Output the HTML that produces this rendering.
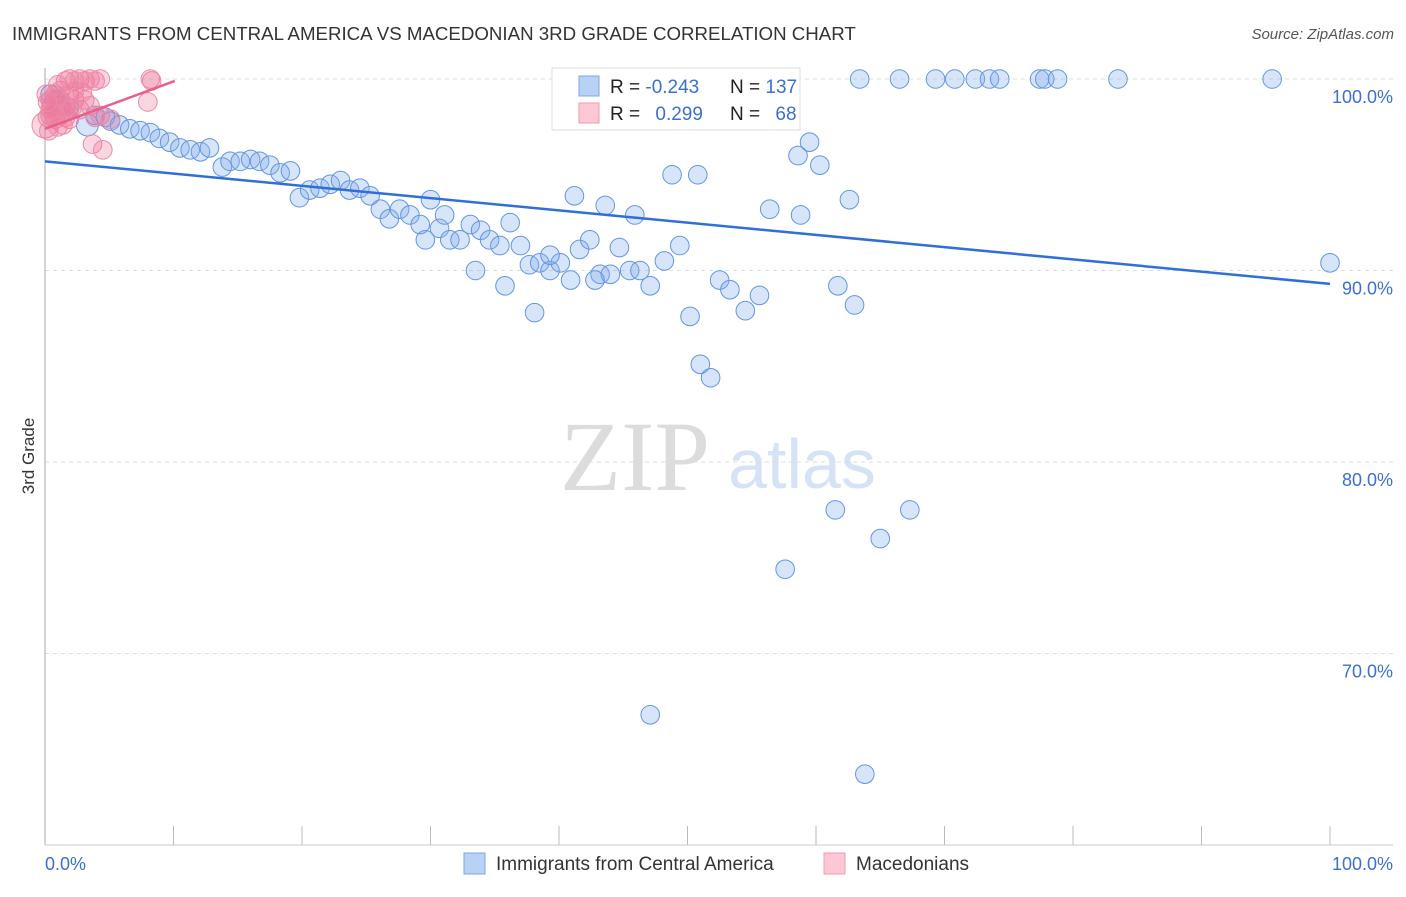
<!DOCTYPE html>
<html><head><meta charset="utf-8"><style>
body{margin:0;background:#fff;font-family:"Liberation Sans",sans-serif}
</style></head><body>
<svg id="c" width="1406" height="892" style="font-family:'Liberation Sans',sans-serif">
<text x="12" y="40" font-size="18.7" fill="#333">IMMIGRANTS FROM CENTRAL AMERICA VS MACEDONIAN 3RD GRADE CORRELATION CHART</text>
<text x="1394" y="39" font-size="15" fill="#555" font-style="italic" text-anchor="end">Source: ZipAtlas.com</text>
<text x="34" y="456" font-size="17" fill="#333" transform="rotate(-90 34 456)" text-anchor="middle">3rd Grade</text>
<text x="635" y="490" font-size="100" fill="#dcdcdc" style="font-family:'Liberation Serif',serif" text-anchor="middle">ZIP</text>
<text x="802" y="488" font-size="70" fill="#d6e2f5" text-anchor="middle">atlas</text>
<g id="grid"></g><g id="pts"></g><g id="trend"></g>
<g>
<rect x="552" y="68" width="248" height="62" fill="#fff" stroke="#ddd"/>
<rect x="579" y="76" width="20" height="20" fill="#b8d2f5" stroke="#7aa7e8"/>
<rect x="579" y="103" width="20" height="20" fill="#fcc8d6" stroke="#f09ab2"/>
<text x="610" y="93" font-size="19" fill="#222">R = <tspan fill="#3a70d0">-0.243</tspan></text>
<text x="730" y="93" font-size="19" fill="#222">N = <tspan fill="#3a70d0">137</tspan></text>
<text x="610" y="120" font-size="19" fill="#222">R = <tspan fill="#3a70d0" dx="10">0.299</tspan></text>
<text x="730" y="120" font-size="19" fill="#222">N = <tspan fill="#3a70d0" dx="10">68</tspan></text>
</g>
<g>
<rect x="464" y="853" width="21" height="21" fill="#b8d2f5" stroke="#7aa7e8"/>
<text x="496" y="870" font-size="19" fill="#333">Immigrants from Central America</text>
<rect x="824" y="853" width="21" height="21" fill="#fcc8d6" stroke="#f09ab2"/>
<text x="856" y="870" font-size="19" fill="#333">Macedonians</text>
</g>
</svg>
<script>
const yTicks=[100,90,80,70];
const yTickLabels=["100.0%","90.0%","80.0%","70.0%"];
const xLabels=["0.0%","100.0%"];
const blueX=[0.4,0.8,1.2,1.9,3.3,3.9,4.7,5.1,5.8,6.6,7.4,8.2,8.9,9.7,10.5,11.3,12.1,12.8,13.8,14.4,15.2,16.0,16.7,17.5,18.3,19.1,19.8,20.6,21.4,22.2,23.0,23.7,24.5,25.3,26.1,26.8,27.6,28.4,29.2,30.0,30.7,31.5,32.3,33.1,33.9,34.6,35.4,36.2,37.0,37.7,38.5,39.3,40.1,40.9,41.6,42.4,43.2,44.0,44.7,45.5,46.3,47.1,48.2,49.4,50.2,51.0,51.8,52.5,53.3,54.5,55.6,56.4,58.8,59.5,60.3,58.6,61.5,62.6,63.0,61.7,65.0,67.3,57.6,47.1,63.8,33.5,35.8,38.1,41.2,43.6,45.9,48.8,50.8,100,42.8,39.3,31.1,29.6,63.4,66.5,69.3,70.8,72.4,73.5,74.3,77.4,77.8,78.8,83.5,95.5,47.9,54.1,43.6];
const blueY=[99.2,98.9,98.6,98.5,97.6,98.1,98.0,97.8,97.6,97.4,97.3,97.2,96.9,96.7,96.4,96.3,96.2,96.4,95.4,95.7,95.7,95.8,95.7,95.5,95.1,95.2,93.8,94.2,94.3,94.5,94.7,94.2,94.3,93.9,93.2,92.7,93.2,92.9,92.4,93.7,92.2,91.6,91.6,92.4,92.1,91.6,91.3,92.5,91.3,90.3,90.4,90.0,90.4,89.5,91.1,91.6,89.8,89.8,91.2,90.0,90.0,89.2,90.5,91.3,87.6,85.1,84.4,89.5,89.0,87.9,88.7,93.2,92.9,96.7,95.5,96.0,77.5,93.7,88.2,89.2,76.0,77.5,74.4,66.8,63.7,90.0,89.2,87.8,93.9,93.4,92.9,95.0,95.0,90.4,89.5,90.8,92.9,91.6,100,100,100,100,100,100,100,100,100,100,100,100,100,100,100];
const pinkX=[0,0.4,0.8,1.2,1.6,1.9,2.3,2.7,3.1,3.5,3.9,4.3,0.8,1.2,1.6,1.9,2.3,2.7,0.4,0.8,1.2,1.6,1.9,3.1,3.5,4.3,3.7,4.5,8.0,8.2,8.3,2.3,1.0,1.3,1.8,0.5,0.2,2.9,3.9,5.1,0.1,0.4,0.9,1.4,2.1,0.3,0.6,1.0,0.2];
const pinkY=[97.6,98.9,99.2,99.4,99.9,100,99.9,100,99.9,100,99.9,100,98.4,98.1,98.6,99.2,98.9,98.4,98.1,97.9,98.9,98.0,97.9,98.9,98.6,98.1,96.6,96.3,98.8,100,99.9,99.4,99.7,98.5,98.3,98.6,98.0,99.3,98.0,97.9,99.2,98.4,99.0,97.6,98.5,97.3,98.2,97.5,98.8];
const blueTrend=[[0,95.7],[100,89.3]];
const pinkTrend=[[0,97.4],[10.1,99.9]];
const NS="http://www.w3.org/2000/svg";
const X=v=>45+v*12.85, Y=v=>79+(100-v)*19.15;
function mk(t,a,p){const e=document.createElementNS(NS,t);for(const k in a)e.setAttribute(k,a[k]);p.appendChild(e);return e;}
const g=document.getElementById('grid');
yTicks.forEach((t,i)=>{
 const l=mk('line',{x1:45,x2:1393,y1:Y(t),y2:Y(t),stroke:'#ddd','stroke-dasharray':'4,4'},g);
 
 
 const tx=mk('text',{x:1393,y:Y(t)+24,'font-size':18,fill:'#3a70d0','text-anchor':'end'},g);
 tx.textContent=yTickLabels[i];
 
 
});
const ax=mk('line',{x1:45,x2:45,y1:68,y2:845,stroke:'#aaa'},g);


const bx=mk('line',{x1:45,x2:1393,y1:845,y2:845,stroke:'#ccc'},g);


for(let i=1;i<=10;i++){const t=mk('line',{x1:X(i*10),x2:X(i*10),y1:826,y2:845,stroke:'#bbb'},g);
 
 }
[[0,'start'],[100,'end']].forEach((d,i)=>{const t=mk('text',{x:i?1393:45,y:870,'font-size':18,fill:'#3a70d0','text-anchor':d[1]},g);
 t.textContent=xLabels[i];
 
 });
const p=document.getElementById('pts');
blueX.forEach((v,i)=>{const c=mk('circle',{cx:X(v),cy:Y(blueY[i]),r:i==4?11:9.3,fill:'rgba(130,175,238,0.32)',stroke:'#6396e2','stroke-width':1},p);
 
 });
pinkX.forEach((v,i)=>{const c=mk('circle',{cx:X(v),cy:Y(pinkY[i]),r:i==0?13:9.3,fill:'rgba(240,120,155,0.3)',stroke:'#ec8aa8','stroke-width':1},p);
 
 });
const tr=document.getElementById('trend');
const b=mk('line',{x1:X(blueTrend[0][0]),y1:Y(blueTrend[0][1]),x2:X(blueTrend[1][0]),y2:Y(blueTrend[1][1]),stroke:'#2f6fd6','stroke-width':2.5},tr);


const pk=mk('line',{x1:X(pinkTrend[0][0]),y1:Y(pinkTrend[0][1]),x2:X(pinkTrend[1][0]),y2:Y(pinkTrend[1][1]),stroke:'#e8608a','stroke-width':2.5},tr);


</script>
</body></html>
